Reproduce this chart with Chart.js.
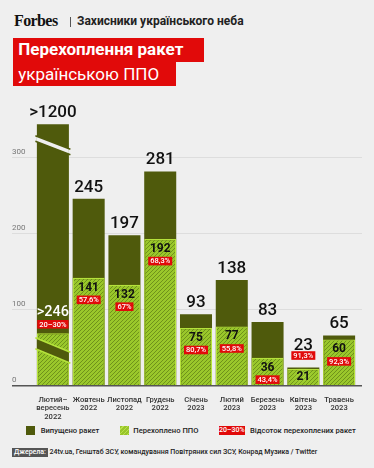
<!DOCTYPE html>
<html>
<head>
<meta charset="utf-8">
<script src="https://cdn.jsdelivr.net/npm/chart.js@4.4.0/dist/chart.umd.min.js"></script>
<style>
  html, body { margin: 0; padding: 0; }
  body { width: 374px; height: 468px; background: #efefef; position: relative; overflow: hidden; font-family: Roboto, sans-serif; color: #222; }
  .logo { position: absolute; left: 14px; top: 12px; font: bold 16px "Liberation Serif", serif; letter-spacing: -0.6px; color: #111; }
  .pipe { position: absolute; left: 69.5px; top: 17px; width: 1px; height: 10px; background: #555; }
  .sub { position: absolute; left: 77px; top: 14px; font: bold 12px Roboto, sans-serif; color: #222; }
  .t { position: absolute; left: 12.7px; background: #e10a0a; color: #fff; box-sizing: border-box; padding-left: 5.5px; white-space: nowrap; }
  .t1 { top: 38.3px; height: 23.4px; width: 191.3px; font: bold 17px Roboto, sans-serif; line-height: 23.4px; }
  .t2 { top: 61.7px; height: 24.3px; width: 163.3px; font: 17px Roboto, sans-serif; line-height: 24px; }
  #chart { position: absolute; left: 0; top: 95px; }
  .legend { position: absolute; top: 426px; left: 0; width: 374px; height: 10px; font: 500 7.6px Roboto, sans-serif; color: #222; }
  .legend span { position: absolute; top: 0; line-height: 9.5px; white-space: nowrap; }
  .sw { width: 9.3px; height: 9px; }
  .sw.dark { left: 26px; background: #4f5a0c; }
  .sw.hatch { left: 120px; background: repeating-linear-gradient(135deg, #98c42a 0 2px, #b9e24a 2px 3px); }
  .pill { left: 218.7px; width: 26.3px; height: 9px; background: #e10a0a; color: #fff; text-align: center; font-size: 7px; }
  .foot { position: absolute; top: 448.3px; left: 12px; font: 500 7px Roboto, sans-serif; color: #222; white-space: nowrap; line-height: 8.4px; }
  .foot b { display: inline-block; background: #555; color: #fff; padding: 0 2px; margin-right: 1.5px; font-weight: 500; }
</style>
</head>
<body>
<div class="logo">Forbes</div>
<div class="pipe"></div>
<div class="sub">Захисники українського неба</div>
<div class="t t1">Перехоплення ракет</div>
<div class="t t2">українською ППО</div>

<canvas id="chart" width="374" height="330"></canvas>

<div class="legend">
  <span class="sw dark"></span><span style="left:40.7px">Випущено ракет</span>
  <span class="sw hatch"></span><span style="left:133.3px">Перехоплено ППО</span>
  <span class="pill">20–30%</span><span style="left:250px">Відсоток перехоплених ракет</span>
</div>
<div class="foot"><b>Джерела:</b>24tv.ua, Генштаб ЗСУ, командування Повітряних сил ЗСУ, Конрад Музика / Twitter</div>

<script>
const months = [
  ['Лютий–', 'вересень', '2022'],
  ['Жовтень', '2022'],
  ['Листопад', '2022'],
  ['Грудень', '2022'],
  ['Січень', '2023'],
  ['Лютий', '2023'],
  ['Березень', '2023'],
  ['Квітень', '2023'],
  ['Травень', '2023']
];
const launched = [1200, 245, 197, 281, 93, 138, 83, 23, 65];
const intercepted = [246, 141, 132, 192, 75, 77, 36, 21, 60];
const shares = ['20–30%', '57,6%', '67%', '68,3%', '80,7%', '55,8%', '43,4%', '91,3%', '92,3%'];
const yTicks = [0, 100, 200, 300];
// the first bar is cut by an axis break, these are the heights it is drawn at
const cutLaunched = 343;
const cutIntercepted = 68;

const DARK = '#4f5a0c';
const LIME = '#b5e23c';
const RED = '#e10a0a';
const BG = '#efefef';

function hatch(ctx) {
  const c = document.createElement('canvas');
  c.width = 4; c.height = 4;
  const g = c.getContext('2d');
  g.fillStyle = '#9ac82b';
  g.fillRect(0, 0, 4, 4);
  g.strokeStyle = '#6f931b';
  g.lineWidth = 1;
  g.beginPath();
  g.moveTo(0, 4); g.lineTo(4, 0);
  g.moveTo(-1, 1); g.lineTo(1, -1);
  g.moveTo(3, 5); g.lineTo(5, 3);
  g.stroke();
  return ctx.createPattern(c, 'repeat');
}

function band(ctx, bar, y, drop, thick, fill, edge) {
  const bl = bar.x - bar.width / 2, br = bar.x + bar.width / 2;
  const k = drop / (br - bl);
  ctx.fillStyle = fill;
  ctx.beginPath();
  ctx.moveTo(bl, y); ctx.lineTo(br, y + drop);
  ctx.lineTo(br, y + drop + thick); ctx.lineTo(bl, y + thick);
  ctx.closePath();
  ctx.fill();
  ctx.strokeStyle = edge;
  ctx.lineWidth = 1.6;
  ctx.beginPath();
  ctx.moveTo(bl - 1.5, y - 1.5 * k); ctx.lineTo(br + 1.5, y + drop + 1.5 * k);
  ctx.moveTo(bl - 1.5, y + thick - 1.5 * k); ctx.lineTo(br + 1.5, y + thick + drop + 1.5 * k);
  ctx.stroke();
}

function pill(ctx, text, x, y) {
  ctx.font = '500 7.5px Roboto';
  const w = ctx.measureText(text).width + 4;
  ctx.fillStyle = RED;
  ctx.fillRect(x - w / 2, y - 4.3, w, 8.6);
  ctx.fillStyle = '#fff';
  ctx.fillText(text, x, y + 0.4);
}

const gridPlugin = {
  id: 'fullGrid',
  beforeDatasetsDraw(chart) {
    const { ctx, scales: { y } } = chart;
    ctx.save();
    ctx.strokeStyle = '#dddddd';
    ctx.lineWidth = 1;
    yTicks.forEach(v => {
      if (v === 0) return;
      const py = Math.round(y.getPixelForValue(v)) + 0.5;
      ctx.beginPath(); ctx.moveTo(12, py); ctx.lineTo(362, py); ctx.stroke();
    });
    ctx.restore();
  },
  afterDatasetsDraw(chart) {
    const { ctx, scales: { y } } = chart;
    const py = y.getPixelForValue(0) + 0.8;
    ctx.save();
    ctx.strokeStyle = '#555';
    ctx.lineWidth = 1.6;
    ctx.beginPath(); ctx.moveTo(12, py); ctx.lineTo(362, py); ctx.stroke();
    ctx.restore();
  }
};

const breakPlugin = {
  id: 'axisBreak',
  afterDatasetsDraw(chart) {
    const ctx = chart.ctx;
    const d = chart.getDatasetMeta(1).data[0];
    const g = chart.getDatasetMeta(0).data[0];
    ctx.save();
    band(ctx, d, d.y + 12, 12.3, 5.5, BG, DARK);
    band(ctx, g, g.y + 5, 13.4, 11, DARK, LIME);
    ctx.restore();
  }
};

const labelPlugin = {
  id: 'barLabels',
  afterDatasetsDraw(chart) {
    const ctx = chart.ctx;
    const green = chart.getDatasetMeta(0).data;
    const dark = chart.getDatasetMeta(1).data;
    ctx.save();
    ctx.textAlign = 'center';
    ctx.textBaseline = 'middle';
    launched.forEach((v, i) => {
      const x = dark[i].x, topT = dark[i].y, topG = green[i].y;
      const pre = i === 0 ? '>' : '';
      ctx.font = '500 17px Roboto';
      ctx.fillStyle = '#111';
      ctx.fillText(pre + v, x, topT - (i === 7 ? 22 : 11.5));

      if (i === 0) {
        ctx.font = '500 14.5px Roboto';
        ctx.fillStyle = '#fff';
        ctx.fillText(pre + intercepted[i], x, topG - 21);
        pill(ctx, shares[i], x, topG - 9);
      } else if (i === 7) {
        pill(ctx, shares[i], x, topT - 12);
        ctx.font = 'bold 12px Roboto';
        ctx.shadowColor = 'rgba(200,245,90,0.95)';
        ctx.shadowBlur = 6;
        ctx.fillStyle = '#111';
        ctx.fillText(intercepted[i], x, topG + 8);
        ctx.shadowBlur = 0;
      } else {
        ctx.font = 'bold 12px Roboto';
        ctx.fillStyle = '#111';
        ctx.fillText(intercepted[i], x, topG + 10);
        pill(ctx, shares[i], x, topG + 22);
      }
    });
    ctx.restore();
  }
};

const canvas = document.getElementById('chart');
const ctx = canvas.getContext('2d');

new Chart(ctx, {
  type: 'bar',
  data: {
    labels: months,
    datasets: [{
      label: 'Перехоплено ППО',
      data: intercepted.map((v, i) => i === 0 ? cutIntercepted : v),
      backgroundColor: hatch(ctx),
      borderColor: LIME,
      borderWidth: 1.3
    }, {
      label: 'Випущено ракет',
      data: launched.map((v, i) => i === 0 ? cutLaunched : v),
      backgroundColor: DARK,
      borderWidth: 0
    }]
  },
  options: {
    responsive: false,
    animation: false,
    layout: { padding: { left: 12, right: 17, top: 8.8, bottom: 0 } },
    datasets: { bar: { grouped: false, categoryPercentage: 1, barPercentage: 0.895 } },
    plugins: { legend: { display: false }, tooltip: { enabled: false } },
    scales: {
      x: {
        grid: { display: false },
        border: { display: false },
        ticks: {
          color: '#333',
          font: { family: 'Roboto', size: 7.6, weight: 500, lineHeight: 1.1 },
          padding: 3,
          maxRotation: 0,
          autoSkip: false
        },
        afterFit(scale) { scale.height = 40; }
      },
      y: {
        min: 0,
        max: 370,
        grid: { display: false },
        border: { display: false },
        ticks: {
          color: '#777',
          font: { family: 'Roboto', size: 8 },
          crossAlign: 'far',
          labelOffset: -5.5,
          padding: 0
        },
        afterBuildTicks(scale) { scale.ticks = yTicks.map(value => ({ value })); },
        afterFit(scale) { scale.width = 23; }
      }
    }
  },
  plugins: [gridPlugin, breakPlugin, labelPlugin]
});
</script>
</body>
</html>
